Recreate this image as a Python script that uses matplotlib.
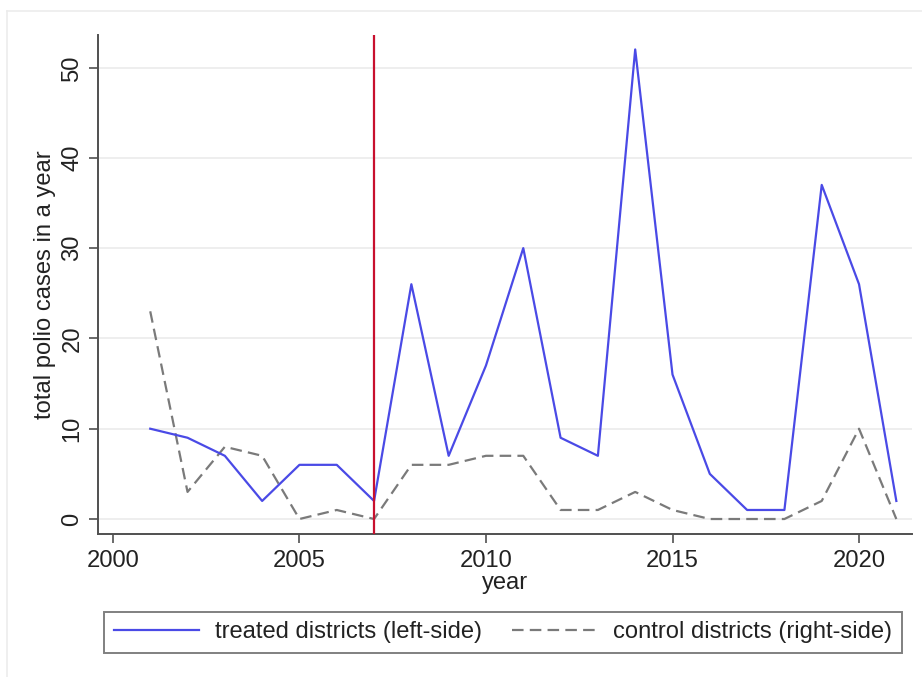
import matplotlib
matplotlib.use("Agg")
import matplotlib.pyplot as plt
from matplotlib.lines import Line2D

plt.rcParams['font.family'] = ['Liberation Sans', 'DejaVu Sans']

years = list(range(2001, 2022))
treated = [10, 9, 7, 2, 6, 6, 2, 26, 7, 17, 30, 9, 7, 52, 16, 5, 1, 1, 37, 26, 2]
control = [23, 3, 8, 7, 0, 1, 0, 6, 6, 7, 7, 1, 1, 3, 1, 0, 0, 0, 2, 10, 0]
treatment_year = 2007
x_ticks = [2000, 2005, 2010, 2015, 2020]
y_ticks = [0, 10, 20, 30, 40, 50]

FS = 17.1
fig = plt.figure(figsize=(9.22, 6.77), dpi=100)
fig.patch.set_facecolor('white')

# faint outer frame of the graph region
fig.add_artist(Line2D([7/922, 1.0], [1 - 11/677, 1 - 11/677],
                      transform=fig.transFigure, color='#ececec', lw=1.2))
fig.add_artist(Line2D([7/922, 7/922], [0.0, 1 - 11/677],
                      transform=fig.transFigure, color='#ececec', lw=1.2))

ax = fig.add_axes([98/922, 1 - 534/677, (912 - 98)/922, (534 - 35)/677])
ax.set_xlim(1999.6, 2021.42)
ax.set_ylim(-1.66, 53.6)

for y in y_ticks:
    ax.axhline(y, color='#ebebeb', lw=1.2, zorder=0)

line_t, = ax.plot(years, treated, color='#4a4ae6', lw=1.6, zorder=3,
                  label='treated districts (left-side)')
line_c, = ax.plot(years, control, color='#7a7a7a', lw=1.6, zorder=2,
                  dashes=(5.2, 2.8), label='control districts (right-side)')
ax.axvline(treatment_year, color='#c8102e', lw=1.6, zorder=4)

for s in ['top', 'right']:
    ax.spines[s].set_visible(False)
for s in ['left', 'bottom']:
    ax.spines[s].set_color('#505050')
    ax.spines[s].set_linewidth(1.4)

ax.set_xticks(x_ticks)
ax.set_yticks(y_ticks)
ax.tick_params(axis='both', length=6.5, width=1.2, color='#505050',
               labelsize=FS, labelcolor='#222222')
ax.tick_params(axis='x', pad=5)
ax.tick_params(axis='y', pad=4)
for lbl in ax.get_yticklabels():
    lbl.set_rotation(90)
    lbl.set_va('center')

ax.set_xlabel('year', fontsize=FS, color='#222222', labelpad=0)
ax.set_ylabel('total polio cases in a year', fontsize=FS, color='#222222', labelpad=4)

leg = fig.legend(handles=[line_t, line_c], loc='center',
                 bbox_to_anchor=(503/922, 1 - 632/677),
                 ncol=2, fontsize=FS, frameon=True, fancybox=False,
                 handlelength=3.6, handletextpad=0.65, borderaxespad=0,
                 borderpad=0.4, columnspacing=1.3)
leg.get_frame().set_edgecolor('#606060')
leg.get_frame().set_linewidth(1.4)
for t in leg.get_texts():
    t.set_color('#222222')

fig.savefig('out.png', dpi=100, facecolor='white')
